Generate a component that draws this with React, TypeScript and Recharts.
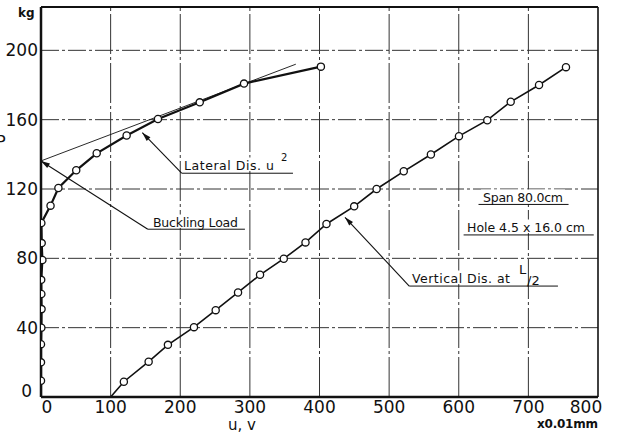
import React from 'react';
import { LineChart, Line, XAxis, YAxis, ReferenceLine } from 'recharts';

const xTicks = [0, 100, 200, 300, 400, 500, 600, 700, 800];
const yTicks = [0, 40, 80, 120, 160, 200];
const gridX = [100, 200, 300, 400, 500, 600, 700];
const gridY = [40, 80, 120, 160, 200];

// lateral displacement u (x0.01mm) vs load P (kg)
const lateralU = [0, 0, 0, 0, 0.5, 0.8, 0.5, 0.3, 2, 1, 0.5, 13.7, 25, 50.6, 80, 123, 168, 228, 291.6, 402];
const lateralP = [0, 9.4, 20, 30.5, 40, 50.7, 59.4, 67.6, 79, 88.8, 100.4, 110.4, 120.6, 130.8, 140.6, 150.9, 160.4, 170, 180.8, 190.6];

// vertical displacement v at L/2
const verticalV = [100, 119, 154.6, 182.3, 219.7, 250.9, 283, 314.6, 348.7, 379.9, 410, 449.8, 482, 521, 560, 600.3, 641, 674.6, 715.3, 754];
const verticalP = [0, 8.8, 20.4, 30.1, 40.3, 50.1, 60.3, 70.5, 79.8, 89.2, 99.8, 110, 120, 130.2, 139.9, 150.5, 159.7, 170.3, 180, 190.3];

// tangent to the lateral curve, meets the P axis at the buckling load
const tangentU = [0, 366];
const tangentP = [136.2, 192];

// leader lines: arrow tip, bend, end of underline
const leaders = [
  { tip: [0, 136.2], bend: [153.4, 96.8], end: 292.9 },
  { tip: [145.5, 152.5], bend: [202, 129.1], end: 361.9 },
  { tip: [436.6, 103.7], bend: [528.9, 64], end: 742.5 },
];
const underlines = [
  { from: 628.4, to: 757.7, P: 111.1 },
  { from: 607, to: 793.9, P: 93.5 },
];

const lateralData = lateralU.map((u, i) => ({ x: u, P: lateralP[i], mark: i > 0 }));
const verticalData = verticalV.map((v, i) => ({ x: v, P: verticalP[i], mark: i > 0 }));

const FONT = '"DejaVu Sans", sans-serif';
const INK = '#111';

const OpenDot = (props: any) => {
  const { cx, cy, payload, index } = props;
  if (!payload.mark) return <g key={`d-${index}`} />;
  return <circle key={`d-${index}`} cx={cx} cy={cy} r={3.6} fill="#fff" stroke={INK} strokeWidth={1.3} />;
};

const ArrowLine = (props: any) => {
  const { x1, y1, x2, y2 } = props;
  const a = Math.atan2(y2 - y1, x2 - x1);
  const len = 9;
  const w = 2.6;
  const bx = x2 - len * Math.cos(a);
  const by = y2 - len * Math.sin(a);
  const px = -Math.sin(a) * w;
  const py = Math.cos(a) * w;
  return (
    <g>
      <line x1={x1} y1={y1} x2={x2} y2={y2} stroke={INK} strokeWidth={1.1} />
      <polygon points={`${x2},${y2} ${bx + px},${by + py} ${bx - px},${by - py}`} fill={INK} />
    </g>
  );
};

const XTick = (props: any) => {
  const { x, y, payload } = props;
  let dx = 0;
  if (payload.value === 0) dx = 6;
  if (payload.value === 800) dx = -12;
  return (
    <text x={x + dx} y={y} dy="0.71em" textAnchor="middle" fontFamily={FONT} fontSize={17} fill={INK}>
      {payload.value}
    </text>
  );
};

const YTick = (props: any) => {
  const { x, y, payload } = props;
  const zero = payload.value === 0;
  return (
    <text x={zero ? 32 : x} y={zero ? 391 : y} dy="0.355em" textAnchor="end" fontFamily={FONT} fontSize={17} fill={INK}>
      {payload.value}
    </text>
  );
};

function Label({ x, y, w, text, size = 12.5 }: { x: number; y: number; w: number; text: string; size?: number }) {
  return (
    <g>
      <rect x={x - 2} y={y - size} width={w + 4} height={size + 1} fill="#fff" />
      <text x={x} y={y} textLength={w} lengthAdjust="spacing" fontFamily={FONT} fontSize={size} fill={INK}>
        {text}
      </text>
    </g>
  );
}

export default function App() {
  return (
    <div style={{ position: 'absolute', left: 0, top: 0, width: 617, height: 433, background: '#fff' }}>
      <LineChart width={617} height={433} margin={{ top: 7, right: 19, bottom: 0, left: 0 }}>
        <XAxis
          dataKey="x"
          type="number"
          domain={[0, 800]}
          ticks={xTicks}
          allowDataOverflow
          tickLine={false}
          tickSize={2}
          tickMargin={2}
          height={36}
          axisLine={{ stroke: INK, strokeWidth: 2.5 }}
          tick={<XTick />}
        />
        <YAxis
          dataKey="P"
          type="number"
          domain={[0, 225]}
          ticks={yTicks}
          allowDataOverflow
          tickLine={false}
          tickSize={2}
          tickMargin={1}
          width={41}
          axisLine={{ stroke: INK, strokeWidth: 2.5 }}
          tick={<YTick />}
        />
        {gridX.map((g) => (
          <ReferenceLine key={`gx-${g}`} x={g} stroke="#333" strokeWidth={1} strokeDasharray="40 3 3 3" />
        ))}
        {gridY.map((g) => (
          <ReferenceLine key={`gy-${g}`} y={g} stroke="#333" strokeWidth={1} strokeDasharray="18 3 3 3" />
        ))}
        <ReferenceLine y={225} stroke={INK} strokeWidth={2} />
        <ReferenceLine x={800} stroke={INK} strokeWidth={1.6} />
        <ReferenceLine
          segment={[{ x: tangentU[0], y: tangentP[0] }, { x: tangentU[1], y: tangentP[1] }]}
          stroke={INK}
          strokeWidth={0.9}
          ifOverflow="visible"
        />
        {leaders.map((l, i) => (
          <ReferenceLine
            key={`lb-${i}`}
            segment={[{ x: l.bend[0], y: l.bend[1] }, { x: l.tip[0], y: l.tip[1] }]}
            ifOverflow="visible"
            shape={<ArrowLine />}
          />
        ))}
        {leaders.map((l, i) => (
          <ReferenceLine
            key={`lu-${i}`}
            segment={[{ x: l.bend[0], y: l.bend[1] }, { x: l.end, y: l.bend[1] }]}
            stroke={INK}
            strokeWidth={1}
            ifOverflow="visible"
          />
        ))}
        {underlines.map((u, i) => (
          <ReferenceLine
            key={`ul-${i}`}
            segment={[{ x: u.from, y: u.P }, { x: u.to, y: u.P }]}
            stroke={INK}
            strokeWidth={1}
            ifOverflow="visible"
          />
        ))}
        <Line
          data={lateralData}
          dataKey="P"
          type="linear"
          stroke={INK}
          strokeWidth={2.2}
          dot={<OpenDot />}
          isAnimationActive={false}
        />
        <Line
          data={verticalData}
          dataKey="P"
          type="linear"
          stroke={INK}
          strokeWidth={1.6}
          dot={<OpenDot />}
          isAnimationActive={false}
        />
      </LineChart>
      <svg width={617} height={433} style={{ position: 'absolute', left: 0, top: 0, pointerEvents: 'none' }}>
        <text x={18} y={17} fontFamily={FONT} fontSize={12} fontWeight="bold" fill={INK}>kg</text>
        <text x={-4} y={147} fontFamily={FONT} fontSize={16} fill={INK}>P</text>
        <Label x={184} y={170} w={90} text="Lateral Dis. u" />
        <text x={281} y={161} fontFamily={FONT} fontSize={10} fill={INK}>2</text>
        <Label x={153} y={227} w={85} text="Buckling Load" />
        <Label x={412} y={283} w={98} text="Vertical Dis. at" />
        <text x={519} y={274} fontFamily={FONT} fontSize={13} fill={INK}>L</text>
        <text x={527} y={285} fontFamily={FONT} fontSize={13} fill={INK}>/2</text>
        <Label x={483} y={202} w={80} text="Span 80.0cm" />
        <Label x={467} y={232} w={118} text="Hole 4.5 x 16.0 cm" />
        <text x={242} y={430} textAnchor="middle" fontFamily={FONT} fontSize={15} fill={INK}>u, v</text>
        <text x={537} y={428} textLength={61} lengthAdjust="spacing" fontFamily={FONT} fontSize={12} fontWeight="bold" fill={INK}>x0.01mm</text>
      </svg>
    </div>
  );
}
